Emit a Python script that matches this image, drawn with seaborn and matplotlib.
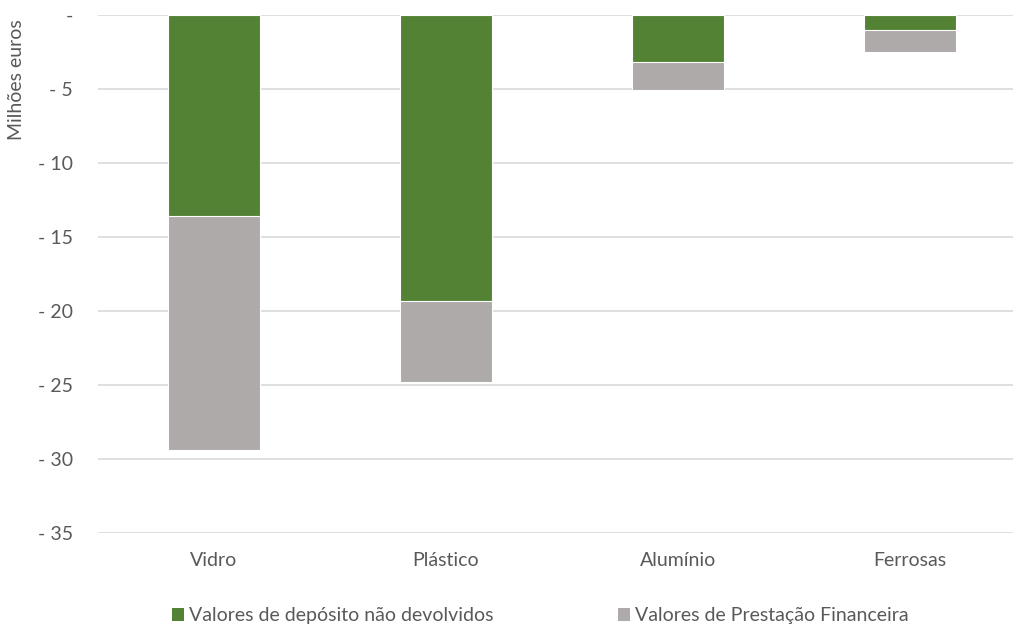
import matplotlib
matplotlib.use("Agg")
import matplotlib.pyplot as plt
from matplotlib.patches import Patch
from matplotlib.ticker import FixedLocator, FuncFormatter
import seaborn as sns
import pandas as pd

categories = ["Vidro", "Plástico", "Alumínio", "Ferrosas"]
deposito_nao_devolvido = [-13.6, -19.3, -3.2, -1.0]
prestacao_financeira = [-15.8, -5.5, -1.9, -1.5]
series_names = ["Valores de depósito não devolvidos", "Valores de Prestação Financeira"]
y_ticks = [0, -5, -10, -15, -20, -25, -30, -35]

GREEN = "#548235"
GRAY = "#AEAAAA"
TEXT = "#595959"
GRID = "#D9D9D9"
FS = 14

sns.set_theme(style="white")
plt.rcParams["font.family"] = ["Lato", "DejaVu Sans"]

df = pd.DataFrame({
    "categoria": categories,
    "deposito": deposito_nao_devolvido,
    "prestacao": prestacao_financeira,
})
df["total"] = df["deposito"] + df["prestacao"]

fig = plt.figure(figsize=(10.13, 6.27), dpi=100)
ax = fig.add_axes([98 / 1013, 94 / 627, 915 / 1013, 518 / 627])

bw = 92 / 232
sns.barplot(data=df, x="categoria", y="total", color=GRAY, width=bw,
            edgecolor="white", linewidth=0.8, ax=ax, zorder=3, saturation=1)
sns.barplot(data=df, x="categoria", y="deposito", color=GREEN, width=bw,
            edgecolor="white", linewidth=0.8, ax=ax, zorder=4, saturation=1)

ax.set_ylim(-35, 0)
ax.set_xlim(-0.5, -0.5 + 915 / 232)
ax.yaxis.set_major_locator(FixedLocator(y_ticks))
ax.yaxis.set_major_formatter(FuncFormatter(lambda v, p: "-" if v == 0 else f"- {abs(v):.0f}"))
ax.grid(axis="y", color=GRID, linewidth=1.2, zorder=0)
ax.set_axisbelow(True)
for s in ax.spines.values():
    s.set_visible(False)
ax.tick_params(axis="both", length=0, labelsize=FS, colors=TEXT)
ax.tick_params(axis="y", pad=18)
ax.tick_params(axis="x", pad=14)
ax.set_xlabel("")
ax.set_ylabel("")

fig.text(17 / 1013, 1 - 80 / 627, "Milhões euros", rotation=90, ha="center",
         va="center", fontsize=FS, color=TEXT)

handles = [Patch(facecolor=GREEN, edgecolor="none"), Patch(facecolor=GRAY, edgecolor="none")]
fig.legend(handles, series_names, loc="center left", bbox_to_anchor=(172 / 1013, 1 - 616 / 627),
           ncol=2, frameon=False, fontsize=FS, labelcolor=TEXT, handlelength=0.62,
           handleheight=0.62, handletextpad=0.25, columnspacing=6.4, borderpad=0, borderaxespad=0)

fig.savefig("out.png", dpi=100)
